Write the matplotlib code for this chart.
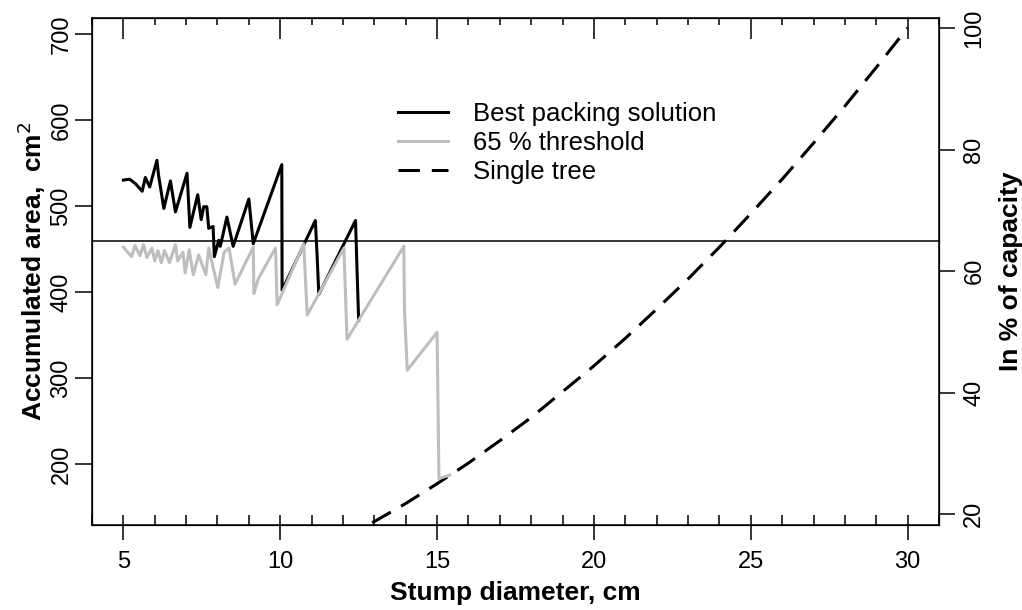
import matplotlib
matplotlib.use("Agg")
import matplotlib.pyplot as plt
from matplotlib.ticker import MultipleLocator

# best packing solution
best_x = [5.0, 5.2, 5.38, 5.6, 5.7, 5.84, 6.07, 6.12, 6.29, 6.5, 6.66, 7.03, 7.12,
          7.37, 7.48, 7.56, 7.66, 7.72, 7.86, 7.9, 8.04, 8.09, 8.3, 8.5, 9.0, 9.14,
          10.05, 10.06, 11.12, 11.18, 11.23, 12.4, 12.45, 12.5]
best_y = [530, 531, 526, 517, 533, 522, 553, 536, 497, 529, 493, 538, 475,
          513, 484, 499, 499, 474, 476, 441, 460, 453, 487, 453, 508, 456,
          548, 402, 483, 439, 397, 483, 424, 367]

# 65 % threshold
thr_x = [5.0, 5.26, 5.37, 5.53, 5.64, 5.75, 5.91, 6.0, 6.1, 6.21, 6.31, 6.47, 6.66,
         6.73, 6.9, 6.97, 7.1, 7.23, 7.4, 7.63, 7.72, 8.01, 8.21, 8.37, 8.56, 9.14,
         9.16, 9.31, 9.85, 9.9, 10.75, 10.86, 12.03, 12.13, 13.94, 13.96, 14.05,
         15.0, 15.06, 15.4]
thr_y = [452, 441, 454, 442, 455, 440, 451, 436, 448, 434, 448, 434, 455,
         436, 446, 422, 449, 420, 443, 420, 451, 405, 446, 451, 409, 452,
         398, 416, 451, 385, 456, 373, 451, 345, 453, 379, 309,
         353, 183, 187]

# single tree area
tree_d = [12, 13, 14, 15, 16, 17, 18, 19, 20, 21, 22, 23, 24, 25, 26, 27, 28, 29, 30]
tree_a = [113, 133, 154, 177, 201, 227, 254, 284, 314, 346, 380, 415, 452, 491,
          531, 573, 616, 661, 707]

capacity = 706.86   # area at 30 cm = 100 %
threshold = 459.5   # 65 %

plt.rcParams['font.family'] = ['Liberation Sans', 'DejaVu Sans']

fig = plt.figure(figsize=(10.22, 6.10), dpi=100)
ax = fig.add_axes([92/1022, 1-525/610, (939-92)/1022, (525-17.5)/610])

ax.plot(tree_d, tree_a, color='black', lw=2.2, dashes=(7, 3.9), label='Single tree')
ax.plot(best_x, best_y, color='black', lw=2.2, label='Best packing solution')
ax.plot(thr_x, thr_y, color='#bebebe', lw=2.2, label='65 % threshold')
ax.axhline(threshold, color='black', lw=1.1)

ax.set_xlim(4, 31)
ax.set_ylim(129, 719)

for s in ax.spines.values():
    s.set_linewidth(1.1)

ax.xaxis.set_major_locator(MultipleLocator(5))
ax.xaxis.set_minor_locator(MultipleLocator(1))
ax.xaxis.remove_overlapping_locs = False
ax.tick_params(axis='x', which='major', direction='out', length=10.8, width=1.1,
               labelsize=17, pad=8)
ax.tick_params(axis='x', which='minor', direction='in', length=7.2, width=1.1)
ax.yaxis.set_major_locator(MultipleLocator(100))
ax.tick_params(axis='y', which='major', direction='out', length=12, width=1.1,
               labelsize=17, pad=2)
for t in ax.get_yticklabels():
    t.set_rotation(90)
    t.set_va('center')

# top ticks
axt = ax.twiny()
axt.set_xlim(ax.get_xlim())
axt.xaxis.set_major_locator(MultipleLocator(5))
axt.xaxis.set_minor_locator(MultipleLocator(1))
axt.tick_params(axis='x', which='major', direction='in', length=15, width=1.1,
                labeltop=False)
axt.tick_params(axis='x', which='minor', direction='in', length=5, width=1.1)

# right axis in % of capacity
ax2 = ax.twinx()
ax2.set_ylim(129/capacity*100, 719/capacity*100)
ax2.yaxis.set_major_locator(MultipleLocator(20))
ax2.tick_params(axis='y', which='major', direction='out', length=11.5, width=1.1,
                labelsize=17, pad=6)
for t in ax2.get_yticklabels():
    t.set_rotation(90)
    t.set_va('center')

ax.set_xlabel('Stump diameter, cm', fontsize=19, fontweight='bold', labelpad=6)
ax.set_ylabel('Accumulated area,  cm$^2$', fontsize=19, fontweight='bold', labelpad=2)
ax2.set_ylabel('In % of capacity', fontsize=19, fontweight='bold', labelpad=10)

h, l = ax.get_legend_handles_labels()
order = [1, 2, 0]
ax.legend([h[i] for i in order], [l[i] for i in order], frameon=False, fontsize=18.5,
          loc='upper left', bbox_to_anchor=(398/1022, 1-102/610),
          bbox_transform=fig.transFigure, borderpad=0, borderaxespad=0,
          handlelength=1.95, handletextpad=0.97, labelspacing=0.2)

fig.savefig('out.png', dpi=100)
